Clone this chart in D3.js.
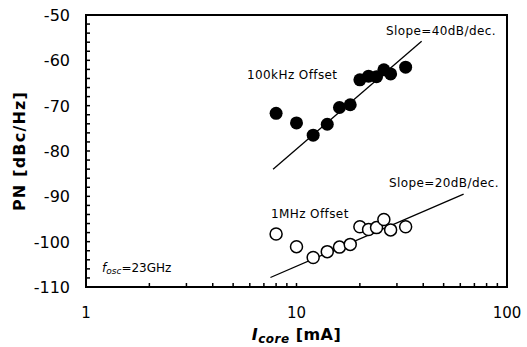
<!DOCTYPE html>
<html>
<head>
<meta charset="utf-8">
<script src="https://cdn.jsdelivr.net/npm/d3@7"></script>
<style>
  body { margin: 0; background: #fff; }
  text { font-family: "DejaVu Sans", Verdana, sans-serif; fill: #000; }
</style>
</head>
<body>
<svg id="chart" width="527" height="347"></svg>
<script>
// current sweep (mA)
let currents = [8, 10, 12, 14, 16, 18, 20, 22, 24, 26, 28, 33];
// phase noise at 100kHz offset (dBc/Hz)
let pn100k = [-71.7, -73.8, -76.5, -74.1, -70.4, -69.8, -64.3, -63.5, -63.6, -62.1, -63.0, -61.5];
// phase noise at 1MHz offset (dBc/Hz)
let pn1M = [-98.3, -101.1, -103.5, -102.2, -101.2, -100.6, -96.7, -97.3, -96.9, -95.1, -97.4, -96.7];
// fitted slope lines: [I, PN] endpoints
let fit40 = [[7.74, -84.0], [39.3, -55.8]];
let fit20 = [[7.52, -107.9], [62.2, -89.5]];

let xTicks = [1, 10, 100];
let yTicks = [-110, -100, -90, -80, -70, -60, -50];

let margin = {top: 15, right: 20, bottom: 60, left: 86};
let width = 527, height = 347;

let svg = d3.select("#chart");
let g = svg.append("g").attr("transform", `translate(${margin.left}, ${margin.top})`);
let w = width - margin.left - margin.right;
let h = height - margin.top - margin.bottom;

let x = d3.scaleLog().domain([1, 100]).range([0, w]);
let y = d3.scaleLinear().domain([-110, -50]).range([h, 0]);

// minor ticks, pointing inward
let xMinor = [];
for (let d = 1; d < 100; d *= 10) for (let k = 2; k <= 9; k++) xMinor.push(d * k);
xMinor.push(10);
g.append("g").selectAll("line").data(xMinor).enter().append("line")
    .attr("x1", d => x(d)).attr("x2", d => x(d))
    .attr("y1", h).attr("y2", h - 4)
    .attr("stroke", "#000").attr("stroke-width", 1.5);

let yMinor = d3.range(-108, -50, 2);
g.append("g").selectAll("line").data(yMinor).enter().append("line")
    .attr("x1", 0).attr("x2", 4)
    .attr("y1", d => y(d)).attr("y2", d => y(d))
    .attr("stroke", "#000").attr("stroke-width", 1.5);

// frame
g.append("rect").attr("width", w).attr("height", h)
    .attr("fill", "none").attr("stroke", "#000").attr("stroke-width", 2);

// tick labels
g.append("g").selectAll("text").data(xTicks).enter().append("text")
    .attr("x", d => x(d)).attr("y", h + 31)
    .style("text-anchor", "middle").style("font-size", "15px")
    .text(d => d);

g.append("g").selectAll("text").data(yTicks).enter().append("text")
    .attr("x", -16).attr("y", d => y(d) + 6)
    .style("text-anchor", "end").style("font-size", "16px")
    .text(d => d);

// axis titles
let xt = svg.append("text")
    .attr("x", margin.left + x(10)).attr("y", 340)
    .style("text-anchor", "middle").style("font-size", "16px").style("font-weight", "bold")
    .style("letter-spacing", "0.5px");
xt.append("tspan").style("font-style", "italic").text("I");
xt.append("tspan").style("font-style", "italic").style("font-size", "12px").attr("dy", 3).text("core");
xt.append("tspan").attr("dy", -3).text(" [mA]");

svg.append("text")
    .attr("transform", `translate(25, ${margin.top + h / 2}) rotate(-90)`)
    .style("text-anchor", "middle").style("font-size", "16px").style("font-weight", "bold")
    .style("letter-spacing", "1.2px")
    .text("PN [dBc/Hz]");

// fit lines
let line = d3.line().x(d => x(d[0])).y(d => y(d[1]));
[fit40, fit20].forEach(f => {
    g.append("path").attr("d", line(f))
        .attr("fill", "none").attr("stroke", "#000").attr("stroke-width", 1.3);
});

// markers
let d100k = currents.map((c, i) => ({I: c, pn: pn100k[i]}));
let d1M = currents.map((c, i) => ({I: c, pn: pn1M[i]}));

g.append("g").selectAll("circle").data(d100k).enter().append("circle")
    .attr("cx", d => x(d.I)).attr("cy", d => y(d.pn)).attr("r", 6.5)
    .attr("fill", "#000");

g.append("g").selectAll("circle").data(d1M).enter().append("circle")
    .attr("cx", d => x(d.I)).attr("cy", d => y(d.pn)).attr("r", 6)
    .attr("fill", "#fff").attr("stroke", "#000").attr("stroke-width", 1.5);

// annotations
function note(tx, ty, str) {
    return svg.append("text").attr("x", tx).attr("y", ty)
        .style("font-size", "12px").style("letter-spacing", "0.4px").text(str);
}
note(386, 35, "Slope=40dB/dec.");
note(389, 187, "Slope=20dB/dec.");
note(247, 79, "100kHz Offset");
note(271, 218, "1MHz Offset");

let fo = svg.append("text").attr("x", 102).attr("y", 272).style("font-size", "12px");
fo.append("tspan").style("font-style", "italic").text("f");
fo.append("tspan").style("font-style", "italic").style("font-size", "9px").attr("dy", 2).text("osc");
fo.append("tspan").attr("dy", -2).text("=23GHz");
</script>
</body>
</html>
